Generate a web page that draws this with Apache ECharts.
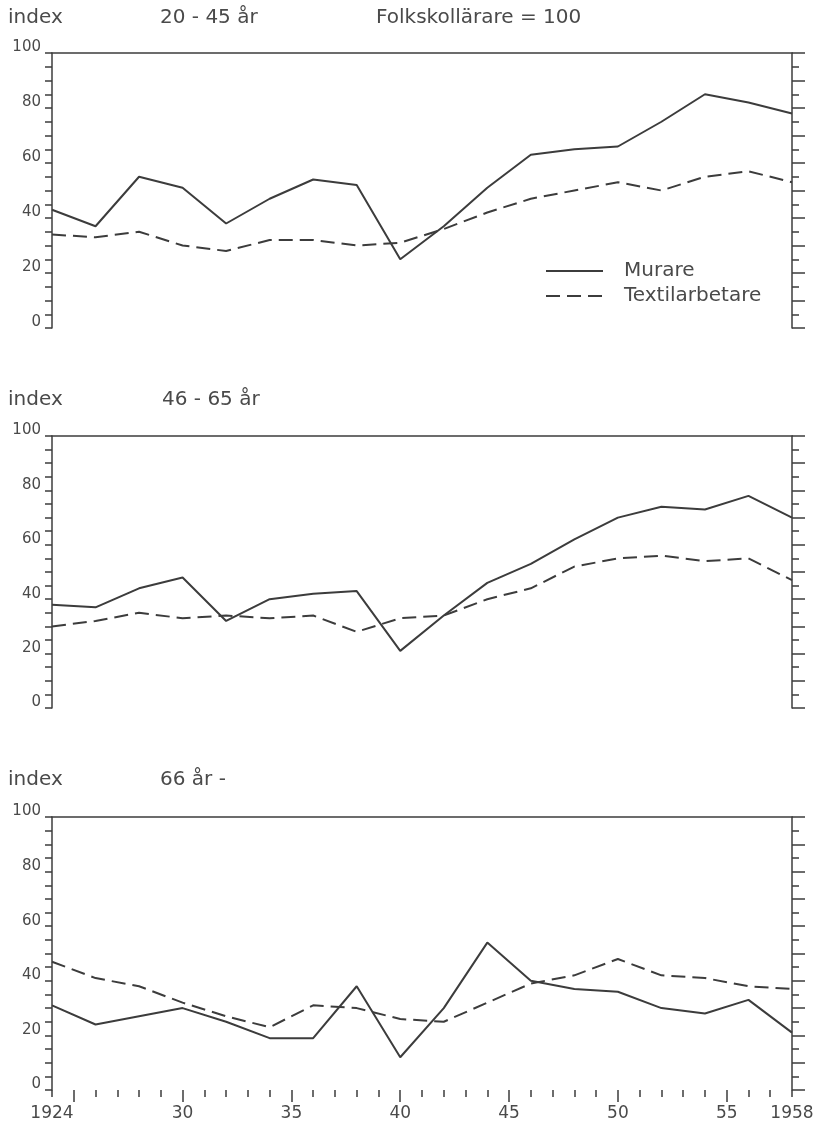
<!DOCTYPE html>
<html>
<head>
<meta charset="utf-8">
<script src="https://cdn.jsdelivr.net/npm/echarts@6/dist/echarts.min.js"></script>
<style>
  html, body { margin: 0; padding: 0; background: #fff; }
  #chart { width: 825px; height: 1123px; }
</style>
</head>
<body>
<div id="chart"></div>
<script>
// Årtal (vartannat år) och index, Folkskollärare = 100
const years = [1924, 1926, 1928, 1930, 1932, 1934, 1936, 1938, 1940,
  1942, 1944, 1946, 1948, 1950, 1952, 1954, 1956, 1958];

// 20 - 45 år
const murare1 = [43, 37, 55, 51, 38, 47, 54, 52, 25, 37, 51, 63, 65, 66, 75, 85, 82, 78];
const textil1 = [34, 33, 35, 30, 28, 32, 32, 30, 31, 36, 42, 47, 50, 53, 50, 55, 57, 53];

// 46 - 65 år
const murare2 = [38, 37, 44, 48, 32, 40, 42, 43, 21, 34, 46, 53, 62, 70, 74, 73, 78, 70];
const textil2 = [30, 32, 35, 33, 34, 33, 34, 28, 33, 34, 40, 44, 52, 55, 56, 54, 55, 47];

// 66 år -
const murare3 = [31, 24, 27, 30, 25, 19, 19, 38, 12, 30, 54, 40, 37, 36, 30, 28, 33, 21];
const textil3 = [47, 41, 38, 32, 27, 23, 31, 30, 26, 25, 32, 39, 42, 48, 42, 41, 38, 37];

const majorYearTicks = [1925, 1930, 1935, 1940, 1945, 1950, 1955];
const yearLabels = [1924, 1930, 1935, 1940, 1945, 1950, 1955, 1958];

const panels = [
  { top: 53, height: 275, murare: murare1, textil: textil1 },
  { top: 436, height: 272, murare: murare2, textil: textil2 },
  { top: 817, height: 273, murare: murare3, textil: textil3 },
];

const INK = "#3c3c3c";
const TEXT = "#4a4a4a";
const FONT = "DejaVu Sans";

const chart = echarts.init(document.getElementById("chart"));

const grid = [];
const xAxis = [];
const yAxis = [];
const series = [];

panels.forEach((p, i) => {
  grid.push({ left: 52, width: 740, top: p.top, height: p.height });
  const last = i === panels.length - 1;

  // nedre axel: bara i sista panelen med årtal
  xAxis.push({
    type: "value", gridIndex: i, min: 1924, max: 1958, position: "bottom",
    axisLine: { show: false },
    splitLine: { show: false },
    axisTick: { show: last, customValues: majorYearTicks, length: 12,
      lineStyle: { color: INK, width: 1.5 } },
    axisLabel: {
      show: last, customValues: yearLabels, margin: 15,
      color: TEXT, fontFamily: FONT, fontSize: 17,
      formatter: (v) => (v === 1924 || v === 1958 ? String(v) : String(v % 100)),
    },
  });
  // årstreck
  xAxis.push({
    type: "value", gridIndex: i, min: 1924, max: 1958, interval: 1, position: "bottom",
    axisLine: { show: false },
    splitLine: { show: false },
    axisTick: { show: last, length: 7, lineStyle: { color: INK, width: 1.5 } },
    axisLabel: { show: false },
  });
  // överkant
  xAxis.push({
    type: "value", gridIndex: i, min: 1924, max: 1958, position: "top",
    axisLine: { show: true, lineStyle: { color: INK, width: 1.5 } },
    axisTick: { show: false },
    axisLabel: { show: false },
    splitLine: { show: false },
  });

  yAxis.push({
    type: "value", gridIndex: i, min: 0, max: 100, interval: 20, position: "left",
    axisLine: { show: true, lineStyle: { color: INK, width: 1.5 } },
    axisTick: { show: true, length: 7, lineStyle: { color: INK, width: 1.5 } },
    minorTick: { show: true, splitNumber: 4, length: 7, lineStyle: { color: INK, width: 1.5 } },
    splitLine: { show: false },
    axisLabel: {
      color: TEXT, fontFamily: FONT, fontSize: 15, margin: 11,
      verticalAlign: "bottom", padding: [0, 0, -2, 0],
    },
  });
  yAxis.push({
    type: "value", gridIndex: i, min: 0, max: 100, interval: 10, position: "right",
    axisLine: { show: true, lineStyle: { color: INK, width: 1.5 } },
    axisTick: { show: true, length: 13, lineStyle: { color: INK, width: 1.5 } },
    minorTick: { show: true, splitNumber: 2, length: 7, lineStyle: { color: INK, width: 1.5 } },
    splitLine: { show: false },
    axisLabel: { show: false },
  });

  series.push({
    name: "Murare", type: "line", xAxisIndex: i * 3, yAxisIndex: i * 2,
    data: years.map((y, k) => [y, p.murare[k]]),
    symbol: "none", lineStyle: { color: INK, width: 2 }, itemStyle: { color: INK },
  });
  series.push({
    name: "Textilarbetare", type: "line", xAxisIndex: i * 3, yAxisIndex: i * 2,
    data: years.map((y, k) => [y, p.textil[k]]),
    symbol: "none", lineStyle: { color: INK, width: 2, type: [14, 7] }, itemStyle: { color: INK },
  });
});

const txt = (x, y, text) => ({
  type: "text", left: x, top: y,
  style: { text, fill: TEXT, font: "20px '" + FONT + "'" },
});

chart.setOption({
  animation: false,
  backgroundColor: "#fff",
  grid, xAxis, yAxis, series,
  legend: {
    data: ["Murare", "Textilarbetare"],
    orient: "vertical", left: 540, top: 256,
    itemWidth: 57, itemHeight: 14, itemGap: 5,
    selectedMode: false,
    itemStyle: { opacity: 0, borderWidth: 0 },
    textStyle: { color: TEXT, fontFamily: FONT, fontSize: 20, padding: [0, 0, 0, 16] },
  },
  graphic: [
    txt(8, 8, "index"),
    txt(160, 8, "20 - 45 år"),
    txt(376, 8, "Folkskollärare = 100"),
    txt(8, 390, "index"),
    txt(162, 390, "46 - 65 år"),
    txt(8, 770, "index"),
    txt(160, 770, "66 år -"),
  ],
});
</script>
</body>
</html>
